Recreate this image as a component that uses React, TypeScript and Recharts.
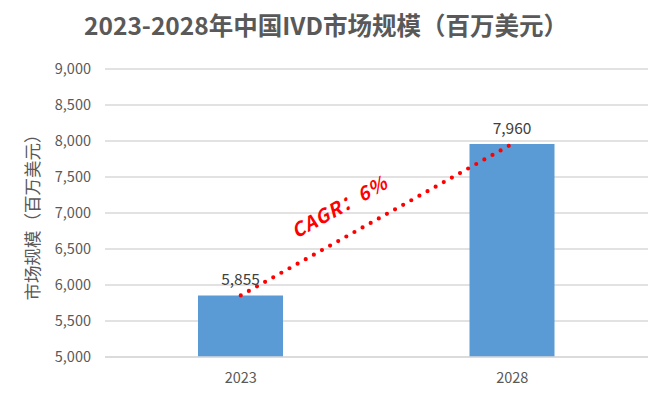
import { ComposedChart, Bar, Line, XAxis, YAxis, CartesianGrid, LabelList } from 'recharts'

const years = ['2023', '2028']
const marketSize = [5855, 7960]
const yTicks = [5000, 5500, 6000, 6500, 7000, 7500, 8000, 8500, 9000]
const title = '2023-2028年中国IVD市场规模（百万美元）'
const yLabel = '市场规模（百万美元）'
const cagrText = 'CAGR：6%'

const data = years.map((y, i) => ({ year: y, value: marketSize[i] }))

const font = '"Noto Sans CJK SC", "Noto Sans", sans-serif'
const gray = '#595959'

export default function App() {
  return (
    <div style={{ position: 'absolute', left: 0, top: 0, width: 667, height: 399, background: '#fff', fontFamily: font }}>
      <div
        style={{
          position: 'absolute',
          top: 8,
          left: 0,
          width: 652,
          textAlign: 'center',
          fontSize: 24.5,
          fontWeight: 700,
          color: gray,
          lineHeight: '34px',
        }}
      >
        {title}
      </div>
      <ComposedChart width={667} height={399} data={data} margin={{ top: 69, right: 19, bottom: 12, left: 45 }}>
        <CartesianGrid vertical={false} stroke="#d9d9d9" strokeWidth={1.5} />
        <XAxis
          dataKey="year"
          axisLine={{ stroke: '#d9d9d9', strokeWidth: 1.5 }}
          tickLine={false}
          tick={{ fill: gray, fontSize: 14.5, fontFamily: font }}
          tickMargin={10}
        />
        <YAxis
          domain={[5000, 9000]}
          ticks={yTicks}
          width={60}
          axisLine={false}
          tickLine={false}
          tick={{ fill: gray, fontSize: 14.5, fontFamily: font }}
          tickFormatter={(v: number) => v.toLocaleString('en-US')}
          tickMargin={8}
          label={{
            value: yLabel,
            angle: -90,
            position: 'insideLeft',
            offset: -12,
            style: { fill: gray, fontSize: 17.5, fontFamily: font, textAnchor: 'middle' },
          }}
        />
        <Bar dataKey="value" fill="#5b9bd5" barSize={85} isAnimationActive={false}>
          <LabelList
            dataKey="value"
            position="top"
            offset={10}
            formatter={(v: any) => Number(v).toLocaleString('en-US')}
            style={{ fill: '#404040', fontSize: 15.5, fontFamily: font }}
          />
        </Bar>
        <Line
          dataKey="value"
          stroke="#ff0000"
          strokeWidth={4.2}
          strokeDasharray="0 9.3"
          strokeLinecap="round"
          dot={false}
          activeDot={false}
          isAnimationActive={false}
        />
      </ComposedChart>
      <div
        style={{
          position: 'absolute',
          left: 339,
          top: 206,
          transform: 'translate(-50%, -50%) rotate(-29deg)',
          color: '#ff0000',
          fontSize: 19,
          fontWeight: 700,
          fontStyle: 'italic',
          letterSpacing: 1,
          whiteSpace: 'pre',
          lineHeight: '20px',
        }}
      >
        {cagrText}
      </div>
    </div>
  )
}
